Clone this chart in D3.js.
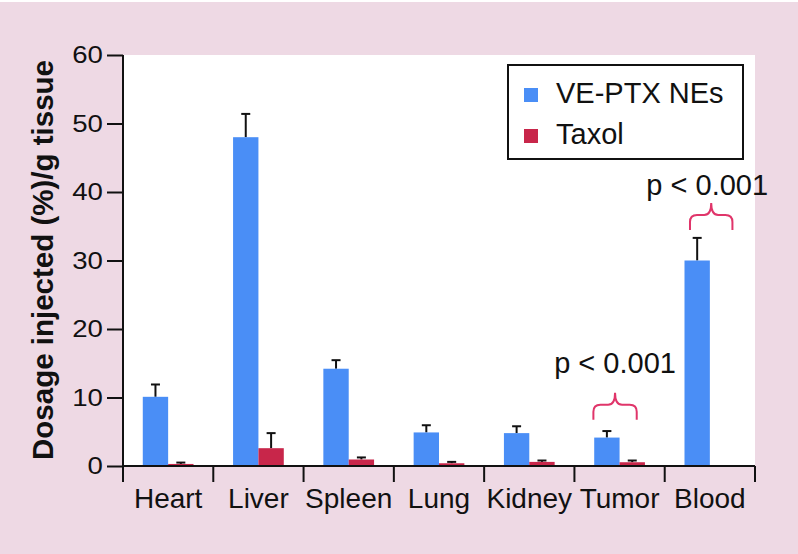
<!DOCTYPE html>
<html>
<head>
<meta charset="utf-8">
<script src="https://cdn.jsdelivr.net/npm/d3@7"></script>
<style>
  html, body { margin: 0; padding: 0; background: #eed9e4; }
  svg { display: block; }
  text { font-family: "Liberation Sans", Arial, Helvetica, sans-serif; fill: #111; }
</style>
</head>
<body>
<svg id="chart" width="798" height="554"></svg>
<script>
// ---------- data ----------
const categories = ["Heart", "Liver", "Spleen", "Lung", "Kidney", "Tumor", "Blood"];
const seriesNames = ["VE-PTX NEs", "Taxol"];
const vePtxValues = [10.1, 48.0, 14.2, 4.9, 4.8, 4.15, 30.0];
const vePtxErrors = [1.8, 3.4, 1.25, 1.05, 1.0, 0.95, 3.3];
const taxolValues = [0.3, 2.6, 0.95, 0.4, 0.6, 0.55, 0];
const taxolErrors = [0.2, 2.2, 0.3, 0.2, 0.2, 0.25, 0];
const yTicks = [0, 10, 20, 30, 40, 50, 60];
const annotationCats = ["Tumor", "Blood"];
const annotationLabels = ["p < 0.001", "p < 0.001"];
const annotationBraceTop = [10.7, 38.4];   // value at brace tip
const annotationTextAt = [13.6, 39.6];      // value at text baseline

(function () {
// ---------- layout ----------
const svg = d3.select("#chart");
const colors = { "VE-PTX NEs": "#4a8ef6", "Taxol": "#c8264a" };
const pLeft = 123, pRight = 755, pTop = 55, pBottom = 466;

svg.append("rect").attr("x", 0).attr("y", 0).attr("width", 798).attr("height", 554).attr("fill", "#eed9e4");
svg.append("rect").attr("x", 0).attr("y", 0).attr("width", 798).attr("height", 2).attr("fill", "#ffffff");

const y = d3.scaleLinear().domain([0, 60]).range([pBottom, pTop]);
const x0 = d3.scaleBand().domain(categories).range([pLeft, pRight]).paddingInner(0).paddingOuter(0);
const x1 = d3.scaleBand().domain(seriesNames).range([0, x0.bandwidth()]).paddingInner(0).paddingOuter(0.78);

// plot area
svg.append("rect").attr("x", pLeft).attr("y", pTop).attr("width", pRight - pLeft).attr("height", pBottom - pTop).attr("fill", "#ffffff");

const rows = categories.map((c, i) => ({
  cat: c,
  vals: [
    { s: "VE-PTX NEs", v: vePtxValues[i], e: vePtxErrors[i] },
    { s: "Taxol", v: taxolValues[i], e: taxolErrors[i] }
  ]
}));

const groups = svg.append("g").selectAll("g").data(rows).join("g")
  .attr("transform", d => `translate(${x0(d.cat)},0)`);

// error bars
groups.selectAll("g.err").data(d => d.vals.filter(v => v.v > 0)).join("g").attr("class", "err")
  .each(function(d) {
    const g = d3.select(this);
    const cx = x1(d.s) + x1.bandwidth() / 2;
    g.append("line").attr("x1", cx).attr("x2", cx).attr("y1", y(d.v)).attr("y2", y(d.v + d.e))
      .attr("stroke", "#111").attr("stroke-width", 2);
    g.append("line").attr("x1", cx - 4.5).attr("x2", cx + 4.5).attr("y1", y(d.v + d.e)).attr("y2", y(d.v + d.e))
      .attr("stroke", "#111").attr("stroke-width", 2);
  });

groups.selectAll("rect.bar").data(d => d.vals.filter(v => v.v > 0)).join("rect").attr("class", "bar")
  .attr("x", d => x1(d.s))
  .attr("width", x1.bandwidth())
  .attr("y", d => y(d.v))
  .attr("height", d => y(0) - y(d.v))
  .attr("fill", d => colors[d.s]);

// y axis
const yAxis = d3.axisLeft(y).tickValues(yTicks).tickSize(16).tickPadding(3).tickFormat(d3.format("d"));
const yg = svg.append("g").attr("transform", `translate(${pLeft},0)`).call(yAxis);
yg.select(".domain").remove();
yg.selectAll(".tick line").attr("stroke", "#111").attr("stroke-width", 2);
yg.selectAll(".tick text").attr("font-size", 24).attr("fill", "#111")
  .style("font-family", '"Liberation Sans", Arial, sans-serif')
  .attr("transform", "scale(1.15,1)")
  .attr("x", -19 / 1.15 - 1);
svg.append("line").attr("x1", pLeft).attr("x2", pLeft).attr("y1", pTop).attr("y2", pBottom + 16)
  .attr("stroke", "#111").attr("stroke-width", 2);

// x axis
svg.append("line").attr("x1", pLeft - 1).attr("x2", pRight).attr("y1", pBottom).attr("y2", pBottom)
  .attr("stroke", "#111").attr("stroke-width", 2);
const boundaries = categories.map(c => x0(c) + x0.bandwidth());
svg.append("g").selectAll("line").data(boundaries).join("line")
  .attr("x1", d => d).attr("x2", d => d).attr("y1", pBottom).attr("y2", pBottom + 16)
  .attr("stroke", "#111").attr("stroke-width", 2);
svg.append("g").selectAll("text").data(categories).join("text")
  .attr("x", d => x0(d) + x0.bandwidth() / 2)
  .attr("y", 508)
  .attr("text-anchor", "middle")
  .attr("font-size", 28)
  .text(d => d);

// y title
svg.append("text")
  .attr("transform", `translate(53,260) rotate(-90)`)
  .attr("text-anchor", "middle")
  .attr("font-size", 29.5)
  .attr("font-weight", "bold")
  .text("Dosage injected (%)/g tissue");

// legend
const lg = svg.append("g");
lg.append("rect").attr("x", 508).attr("y", 65).attr("width", 235).attr("height", 94)
  .attr("fill", "#ffffff").attr("stroke", "#111").attr("stroke-width", 2);
seriesNames.forEach((s, i) => {
  lg.append("rect").attr("x", 524).attr("y", 88 + i * 41).attr("width", 14).attr("height", 14).attr("fill", colors[s]);
  lg.append("text").attr("x", 556).attr("y", 103 + i * 41).attr("font-size", 29).text(s);
});

// annotations (braces + p-values)
const braceColor = "#e0356a";
annotationCats.forEach((c, i) => {
  const bx = x0(c);
  const bw = x0.bandwidth();
  const xa = c === "Tumor" ? bx + bw * 0.21 : bx + bw * 0.28;
  const xb = c === "Tumor" ? bx + bw * 0.69 : bx + bw * 0.75;
  const xc = (xa + xb) / 2;
  const yTip = y(annotationBraceTop[i]);
  const yEnd = yTip + 27;
  const yMid = yTip + 12;
  const r = 7;
  const p = d3.path();
  p.moveTo(xa, yEnd);
  p.lineTo(xa, yMid + r);
  p.quadraticCurveTo(xa, yMid, xa + r, yMid);
  p.lineTo(xc - r, yMid);
  p.quadraticCurveTo(xc, yMid, xc, yTip);
  p.quadraticCurveTo(xc, yMid, xc + r, yMid);
  p.lineTo(xb - r, yMid);
  p.quadraticCurveTo(xb, yMid, xb, yMid + r);
  p.lineTo(xb, yEnd);
  svg.append("path").attr("d", p.toString()).attr("fill", "none").attr("stroke", braceColor).attr("stroke-width", 2);
  svg.append("text").attr("x", c === "Tumor" ? xc : xc - 4).attr("y", y(annotationTextAt[i]))
    .attr("text-anchor", "middle").attr("font-size", 29).text(annotationLabels[i]);
});
})();
</script>
</body>
</html>
